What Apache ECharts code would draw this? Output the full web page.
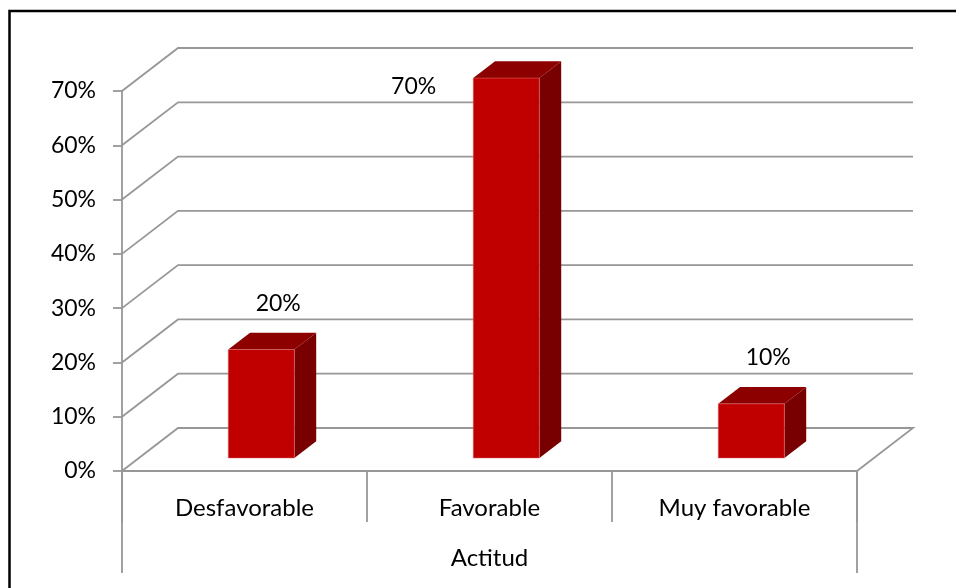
<!DOCTYPE html>
<html>
<head>
<meta charset="utf-8">
<script src="https://cdn.jsdelivr.net/npm/echarts@6/dist/echarts.min.js"></script>
<style>
  html, body { margin: 0; padding: 0; background: #ffffff; }
  #chart { width: 956px; height: 588px; }
</style>
</head>
<body>
<div id="chart"></div>
<script>
// Attitude distribution, shown as a 3D-style column chart
const categories = ['Desfavorable', 'Favorable', 'Muy favorable'];
const shares = [0.2, 0.7, 0.1];
const yTicks = [0, 0.1, 0.2, 0.3, 0.4, 0.5, 0.6, 0.7];
const groupTitle = ['Actitud'];

const FONT = 'Lato, "Open Sans", sans-serif';
const GRID_COLOR = '#979797';
// Depth of the box: how far the back wall sits from the front plane
const DX = 56, DY = -43;
const BAR_FRONT = 0.3, BAR_DEPTH = 0.39, BAR_WIDTH = 0.27;

const pct = v => Math.round(v * 100) + '%';

const chart = echarts.init(document.getElementById('chart'), null, { renderer: 'canvas' });

function renderWall(params, api) {
  const v = api.value(1);
  const first = api.coord([0, v]);
  const last = api.coord([categories.length - 1, v]);
  const bw = api.size([1, 0])[0];
  const L = first[0] - bw / 2;
  const R = last[0] + bw / 2;
  const y = first[1];
  const pts = [[L, y], [L + DX, y + DY], [R + DX, y + DY]];
  if (v === 0) pts.push([R, y]);
  return {
    type: 'polyline',
    shape: { points: pts },
    style: { stroke: GRID_COLOR, lineWidth: 1.8, fill: null }
  };
}

function renderBar(params, api) {
  const idx = api.value(0);
  const val = api.value(1);
  const top = api.coord([idx, val]);
  const base = api.coord([idx, 0]);
  const bw = api.size([1, 0])[0];
  const w = bw * BAR_WIDTH;
  const fx = DX * BAR_FRONT, fy = DY * BAR_FRONT;
  const bx = DX * BAR_DEPTH, by = DY * BAR_DEPTH;
  const x0 = top[0] - w / 2 + fx;
  const x1 = x0 + w;
  const yT = top[1] + fy;
  const yB = base[1] + fy;
  const wallTop = api.coord([0, yTicks[yTicks.length - 1]])[1] + DY;

  // value label above the box, or beside it when there is no room above
  let label;
  if (yT + by - 29 < wallTop) {
    label = { x: x0 - 37, y: yT + 8, align: 'right' };
  } else {
    label = { x: (x0 + x1) / 2 + bx / 2 + 6, y: yT + by - 29, align: 'center' };
  }

  return {
    type: 'group',
    children: [
      {
        type: 'polygon',
        shape: { points: [[x1, yT], [x1 + bx, yT + by], [x1 + bx, yB + by], [x1, yB]] },
        style: { fill: '#780000' }
      },
      {
        type: 'polygon',
        shape: { points: [[x0, yT], [x0 + bx, yT + by], [x1 + bx, yT + by], [x1, yT]] },
        style: { fill: '#8c0000' }
      },
      {
        type: 'rect',
        shape: { x: x0, y: yT, width: w, height: yB - yT },
        style: { fill: '#c00000', stroke: 'rgba(230,120,120,0.6)', lineWidth: 0.8 }
      },
      {
        type: 'text',
        x: label.x,
        y: label.y,
        style: {
          text: pct(val),
          fill: '#000000',
          font: '23px ' + FONT,
          align: label.align,
          verticalAlign: 'middle'
        }
      }
    ]
  };
}

chart.setOption({
  backgroundColor: '#ffffff',
  animation: false,
  graphic: [{
    type: 'rect',
    shape: { x: 9.5, y: 11, width: 980, height: 620 },
    style: { fill: null, stroke: '#000000', lineWidth: 2.5 },
    z: 100
  }],
  grid: { left: 122, right: 99, top: 91, bottom: 117 },
  xAxis: [
    {
      type: 'category',
      data: categories,
      position: 'bottom',
      axisLine: { show: true, lineStyle: { color: GRID_COLOR, width: 1.8 } },
      axisTick: { show: true, length: 51, interval: 0, lineStyle: { color: GRID_COLOR, width: 1.8 } },
      axisLabel: { margin: 25, color: '#000000', fontSize: 24, fontFamily: FONT, interval: 0 },
      splitLine: { show: false }
    },
    {
      type: 'category',
      data: groupTitle,
      position: 'bottom',
      axisLine: { show: false },
      axisTick: { show: true, length: 102, lineStyle: { color: GRID_COLOR, width: 1.8 } },
      axisLabel: { margin: 75, color: '#000000', fontSize: 24, fontFamily: FONT },
      splitLine: { show: false }
    }
  ],
  yAxis: {
    type: 'value',
    min: 0,
    max: 0.7,
    interval: 0.1,
    axisLine: { show: true, lineStyle: { color: GRID_COLOR, width: 1.8 } },
    axisTick: { show: true, length: 9, lineStyle: { color: GRID_COLOR, width: 1.8 } },
    axisLabel: { margin: 26, color: '#000000', fontSize: 23, fontFamily: FONT, formatter: pct },
    splitLine: { show: false }
  },
  series: [
    {
      type: 'custom',
      name: 'walls',
      xAxisIndex: 0,
      renderItem: renderWall,
      encode: { x: 0, y: 1 },
      data: yTicks.map(v => [0, v]),
      z: 1,
      silent: true
    },
    {
      type: 'custom',
      name: 'Actitud',
      xAxisIndex: 0,
      renderItem: renderBar,
      encode: { x: 0, y: 1 },
      data: shares.map((v, i) => [i, v]),
      z: 5
    }
  ]
});
</script>
</body>
</html>
